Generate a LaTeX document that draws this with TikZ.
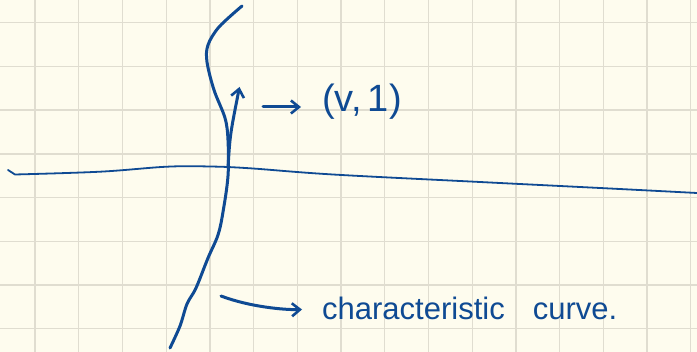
\documentclass[tikz,border=0pt]{standalone}
\usepackage{fontspec}
\setmainfont{Liberation Sans}
\usetikzlibrary{arrows.meta}
\definecolor{paper}{HTML}{FEFCEE}
\definecolor{gridc}{HTML}{E0DDD0}
\definecolor{ink}{HTML}{0F4A93}
\tikzset{
  gridline/.style={draw=gridc, line width=1.3pt},
  pen/.style={draw=ink, line width=3pt, line cap=round, line join=round},
  thinpen/.style={draw=ink, line width=1.8pt, line cap=round, line join=round},
  barb/.style={-{Straight Barb[length=8pt,width=13pt,line width=2.6pt]}},
  hand/.style={text=ink, inner sep=0pt},
}
\begin{document}
\begin{tikzpicture}[x=1pt,y=-1pt]
  \useasboundingbox[fill=paper] (0,0) rectangle (697,352);
  % grid
  \foreach \k in {0,...,15} {
    \draw[gridline] ({35+43.72*\k},0) -- ({35+43.72*\k},352);
  }
  \foreach \k in {0,...,7} {
    \draw[gridline] (0,{22.7+43.72*\k}) -- (697,{22.7+43.72*\k});
  }
  % horizontal curve (initial data line)
  \draw[thinpen] (8,170) -- (15,174.5)
    plot[smooth, tension=0.6] coordinates {(15,174.5) (100,171.7) (167,166.7) (210,166.5) (250,168.3) (333,174.5) (480,182) (600,188) (697,193)};
  % characteristic curve
  \draw[pen] plot[smooth, tension=0.55] coordinates {(242,6) (219,27) (208,45) (207,62) (214,90) (225,118) (228,140) (228,176) (223,212) (218,235) (208,258) (196,288) (187,304) (180,326) (170,348)};
  % tangent arrow (v,1) on the curve
  \coordinate (t0) at (228,168);
  \coordinate (t1) at (239.5,87);
  \draw[pen, barb] (t0) .. controls (230,135) .. (t1);
  % labels
  \node[hand, font=\fontsize{38}{40}\selectfont, anchor=base west] (v1) at (322,112) {(v,\,1)};
  \node[hand, font=\fontsize{31}{33}\selectfont, anchor=base west] (ch) at (322,320) {characteristic\hspace{28pt}curve.};
  % pointer arrows
  \coordinate (s1) at (263,107);
  \draw[pen, barb, shorten >=21pt] (s1) -- (s1 -| v1.west);
  \coordinate (s2) at (221,296);
  \draw[pen, barb, shorten >=20pt] (s2) .. controls (250,307) and (285,310) .. (ch.west);
\end{tikzpicture}
\end{document}
